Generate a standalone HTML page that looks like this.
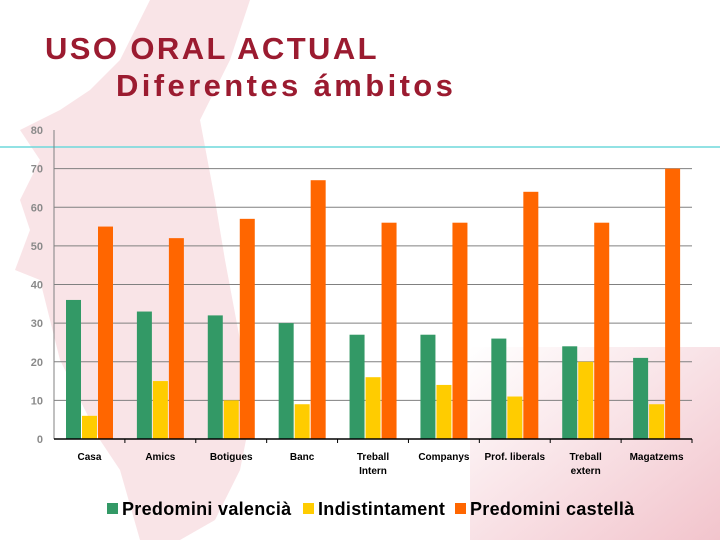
<!DOCTYPE html>
<html><head><meta charset="utf-8"><style>
body{margin:0;width:720px;height:540px;overflow:hidden;background:#fff;font-family:"Liberation Sans",sans-serif;position:relative}
.t{position:absolute;color:#9b1b30;font-size:31px;margin:0;font-weight:bold;white-space:nowrap}
</style></head><body>
<svg width="720" height="540" style="position:absolute;left:0;top:0">
<defs><linearGradient id="g" x1="0" y1="0" x2="1" y2="1"><stop offset="0" stop-color="#fff"/><stop offset="1" stop-color="#f2c4cc"/></linearGradient></defs>
<polygon points="150,0 250,0 230,60 200,120 215,200 225,260 240,340 250,420 240,470 215,520 180,540 140,540 120,470 100,440 80,400 60,360 50,320 40,280 15,270 30,230 20,200 40,160 20,130 60,110 90,90 120,60 140,20" fill="#f9e4e7"/>
<rect x="470" y="347" width="250" height="193" fill="url(#g)"/>
<line x1="0" y1="147" x2="720" y2="147" stroke="#6fd8dc" stroke-width="1.5"/>
</svg>
<div class="t" style="left:45px;top:31px;letter-spacing:2.4px">USO ORAL ACTUAL</div>
<div class="t" style="left:116px;top:68px;letter-spacing:3.4px">Diferentes ámbitos</div>
<svg id="c" width="720" height="540" style="position:absolute;left:0;top:0"></svg>
<script>
const categories=[["Casa"],["Amics"],["Botigues"],["Banc"],["Treball","Intern"],["Companys"],["Prof. liberals"],["Treball","extern"],["Magatzems"]];
const valencia=[36,33,32,30,27,27,26,24,21];
const indist=[6,15,10,9,16,14,11,20,9];
const castella=[55,52,57,67,56,56,64,56,70];
const ticks=[0,10,20,30,40,50,60,70,80];
const series=[{n:"Predomini valencià",c:"#339966",v:valencia},{n:"Indistintament",c:"#ffcc00",v:indist},{n:"Predomini castellà",c:"#ff6600",v:castella}];
const svg=document.getElementById('c'),NS="http://www.w3.org/2000/svg";
const x0=54,x1=692,y0=439,ymax=80,ytop=130,cw=(x1-x0)/categories.length;
const Y=v=>y0-(v/ymax)*(y0-ytop);
function mk(t,a,p){const e=document.createElementNS(NS,t);for(const k in a)e.setAttribute(k,a[k]);(p||svg).appendChild(e);return e;}
ticks.forEach(t=>{
 if(t>0&&t<80){const l=mk('line',{x1:x0,x2:x1,y1:Y(t),y2:Y(t),stroke:'#808080','stroke-width':1});
 
 }
 const tx=mk('text',{x:43,y:Y(t)+4,'text-anchor':'end','font-size':11,'font-weight':'bold',fill:'#8a8a8a'});
 tx.textContent=t;
 
 
});
const ya=mk('line',{x1:x0,x2:x0,y1:ytop,y2:y0,stroke:'#808080'});


categories.forEach((c,i)=>{
 series.forEach((s,j)=>{
  const r=mk('rect',{x:x0+i*cw+12+j*16,y:Y(s.v[i]),width:15,height:y0-Y(s.v[i]),fill:s.c});
  
  
 });
 const tk=mk('line',{x1:x0+(i+1)*cw,x2:x0+(i+1)*cw,y1:y0,y2:y0+4,stroke:'#000'});
 
 
 c.forEach((ln,k)=>{const t=mk('text',{x:x0+i*cw+cw/2,y:y0+21+k*14,'text-anchor':'middle','font-size':10,'font-weight':'bold',fill:'#000'});
 t.textContent=ln;
 
 });
});
const xa=mk('line',{x1:x0,x2:x1,y1:y0,y2:y0,stroke:'#000','stroke-width':1.5});


const lx=[107,303,455];
series.forEach((s,j)=>{
 const g=mk('g',{});
 
 
 mk('rect',{x:lx[j],y:503,width:11,height:11,fill:s.c},g);
 const t=mk('text',{x:lx[j]+15,y:515,'font-size':18,'font-weight':'bold','letter-spacing':0.3,fill:'#000'},g);t.textContent=s.n;
});
</script>
</body></html>
